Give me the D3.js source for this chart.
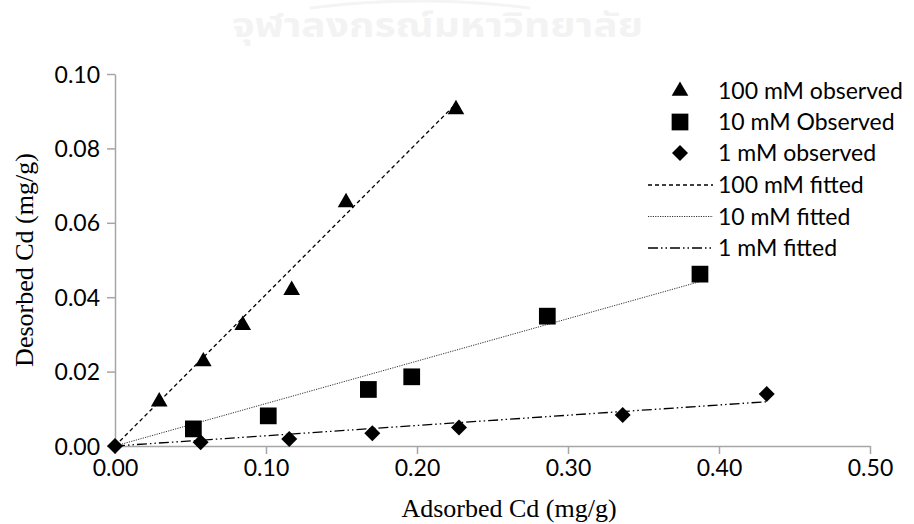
<!DOCTYPE html>
<html>
<head>
<meta charset="utf-8">
<script src="https://cdn.jsdelivr.net/npm/d3@7"></script>
<style>
  html, body { margin: 0; padding: 0; background: #fff; }
  svg { display: block; }
</style>
</head>
<body>
<svg id="chart" width="914" height="524"></svg>
<script>
// Desorbed vs adsorbed cadmium at three background concentrations
const xTicks = [0, 0.1, 0.2, 0.3, 0.4, 0.5];
const yTicks = [0, 0.02, 0.04, 0.06, 0.08, 0.10];

const obs100X = [0.0293, 0.0585, 0.0846, 0.1170, 0.1530, 0.2258];
const obs100Y = [0.0119, 0.0227, 0.0325, 0.0419, 0.0655, 0.0905];

const obs10X = [0.0519, 0.1015, 0.1678, 0.1965, 0.2863, 0.3874];
const obs10Y = [0.0046, 0.0081, 0.0152, 0.0186, 0.0349, 0.0462];

const obs1X = [0, 0.0567, 0.1154, 0.1704, 0.2278, 0.3362, 0.4316];
const obs1Y = [0, 0.0010, 0.0019, 0.0034, 0.0050, 0.0083, 0.0140];

// fitted lines: start and end points
const fit100X = [0, 0.2258];
const fit100Y = [0, 0.0920];
const fit10X = [0, 0.3874];
const fit10Y = [0, 0.0442];
const fit1X = [0, 0.4316];
const fit1Y = [0, 0.0119];

const legendLabels = ["100 mM observed", "10 mM Observed", "1 mM observed",
                      "100 mM fitted", "10 mM fitted", "1 mM fitted"];

const svg = d3.select("#chart");
const x = d3.scaleLinear().domain([0, 0.5]).range([115, 870]);
const y = d3.scaleLinear().domain([0, 0.10]).range([446, 74]);

const labelFont = "Lato, 'Open Sans', sans-serif";
const titleFont = "'Liberation Serif', 'Times New Roman', serif";
const axisColor = "#a6a6a6";

// faint university watermark
svg.append("path")
  .attr("d", "M310,8 Q420,-6 530,8")
  .attr("fill", "none").attr("stroke", "#f4f4f4").attr("stroke-width", 3);
svg.append("text")
  .attr("x", 232).attr("y", 37)
  .attr("textLength", 411)
  .attr("lengthAdjust", "spacingAndGlyphs")
  .attr("font-family", "'Noto Sans Thai', 'Noto Sans', 'DejaVu Sans', sans-serif")
  .attr("font-weight", "bold")
  .attr("font-size", 34)
  .attr("fill", "#f3f3f3")
  .text("จุฬาลงกรณ์มหาวิทยาลัย");

// axes
const xAxis = d3.axisBottom(x).tickValues(xTicks).tickSize(8).tickSizeOuter(0)
  .tickFormat(d3.format(".2f"));
const yAxis = d3.axisLeft(y).tickValues(yTicks).tickSize(8).tickSizeOuter(0)
  .tickFormat(d3.format(".2f"));

const gx = svg.append("g").attr("transform", `translate(0,${y(0)})`).call(xAxis);
const gy = svg.append("g").attr("transform", `translate(${x(0)},0)`).call(yAxis);

[gx, gy].forEach(g => {
  g.select(".domain").attr("stroke", axisColor).attr("stroke-width", 1.5);
  g.selectAll(".tick line").attr("stroke", axisColor).attr("stroke-width", 1.5);
  g.selectAll(".tick text")
    .attr("font-family", labelFont)
    .attr("font-size", 23)
    .attr("fill", "#000");
});
gx.selectAll(".tick text").attr("y", 22).attr("dy", "0.35em");
gy.selectAll(".tick text").attr("x", -15).attr("dy", "0.35em");

// axis titles
svg.append("text")
  .attr("x", 509).attr("y", 517)
  .attr("text-anchor", "middle")
  .attr("font-family", titleFont)
  .attr("font-size", 26)
  .text("Adsorbed Cd (mg/g)");
svg.append("text")
  .attr("transform", `translate(33,260) rotate(-90)`)
  .attr("text-anchor", "middle")
  .attr("font-family", titleFont)
  .attr("font-size", 26)
  .text("Desorbed Cd (mg/g)");

// line styles
const fitStyles = [
  { dash: "4,3", width: 1.3, color: "#000" },
  { dash: "1.2,1.2", width: 1, color: "#333" },
  { dash: "10,3,1.5,3,1.5,3", width: 1.3, color: "#000" }
];

const line = d3.line().x(d => x(d[0])).y(d => y(d[1]));
const fits = [
  d3.zip(fit100X, fit100Y),
  d3.zip(fit10X, fit10Y),
  d3.zip(fit1X, fit1Y)
];
fits.forEach((pts, i) => {
  svg.append("path")
    .attr("d", line(pts))
    .attr("fill", "none")
    .attr("stroke", fitStyles[i].color)
    .attr("stroke-width", fitStyles[i].width)
    .attr("stroke-dasharray", fitStyles[i].dash);
});

// marker shapes
const markerPath = [
  d3.symbol().type(d3.symbolTriangle).size(120)(),
  d3.symbol().type(d3.symbolSquare).size(280)(),
  "M0,-8L8,0L0,8L-8,0Z"
];
const observed = [
  d3.zip(obs100X, obs100Y),
  d3.zip(obs10X, obs10Y),
  d3.zip(obs1X, obs1Y)
];
observed.forEach((pts, i) => {
  svg.append("g").selectAll("path")
    .data(pts)
    .join("path")
    .attr("d", markerPath[i])
    .attr("transform", d => `translate(${x(d[0])},${y(d[1])})`)
    .attr("fill", "#000");
});

// legend
const legendY = [91, 122, 153, 185, 216.5, 248];
const legend = svg.append("g");
legendLabels.forEach((label, i) => {
  const ly = legendY[i];
  if (i < 3) {
    legend.append("path")
      .attr("d", markerPath[i])
      .attr("transform", `translate(680,${ly})`)
      .attr("fill", "#000");
  } else {
    const s = fitStyles[i - 3];
    legend.append("line")
      .attr("x1", 648).attr("x2", 713)
      .attr("y1", ly).attr("y2", ly)
      .attr("stroke", s.color)
      .attr("stroke-width", s.width)
      .attr("stroke-dasharray", s.dash);
  }
  legend.append("text")
    .attr("x", 718).attr("y", ly)
    .attr("dy", "0.35em")
    .attr("font-family", labelFont)
    .attr("font-size", 23)
    .text(label);
});
</script>
</body>
</html>
